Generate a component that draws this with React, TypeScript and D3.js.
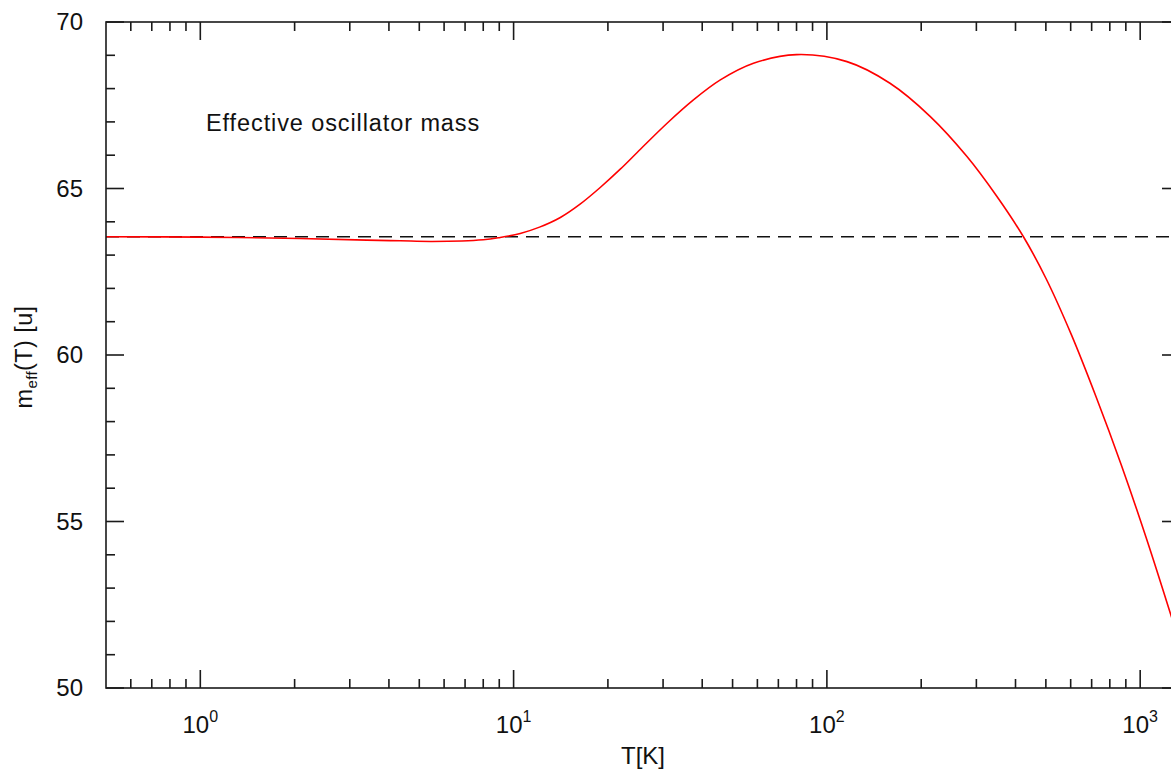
import React from "react";
import * as d3 from "d3";

const temperatures = [0.5, 1, 2.08, 3.4, 4.35, 5.5, 8.0, 9.06, 10.5, 12.1, 14.1, 16.3, 18.9, 21.9, 25.4, 30.9, 37.5, 45.7, 58.3, 80, 115.9, 159, 213.9, 280, 349, 424, 501, 603, 724, 871, 1047, 1259, 1340];
const effMass = [63.55, 63.54, 63.5, 63.45, 63.43, 63.41, 63.46, 63.53, 63.65, 63.84, 64.13, 64.53, 65.03, 65.58, 66.18, 66.96, 67.66, 68.26, 68.76, 69.02, 68.81, 68.16, 67.16, 65.96, 64.76, 63.55, 62.29, 60.61, 58.73, 56.69, 54.49, 52.13, 51.3];
const referenceMass = [63.55];
const xMajorTicks = [1, 10, 100, 1000];
const xMajorExponents = ["0", "1", "2", "3"];
const yMajorTicks = [50, 55, 60, 65, 70];
const xDomain = [0.5, 1340];
const yDomain = [50, 70];
const annotation = "Effective oscillator mass";

const W = 1171;
const H = 772;
const L = 106, R = 1180, T = 22, B = 688;

export default function App() {
  const x = d3.scaleLog().domain(xDomain).range([L, R]);
  const y = d3.scaleLinear().domain(yDomain).range([B, T]);

  const xMinor: number[] = [];
  for (let e = -1; e <= 3; e++) {
    for (let k = 2; k <= 9; k++) {
      const v = k * Math.pow(10, e);
      if (v > xDomain[0] && v < xDomain[1] && !xMajorTicks.includes(v)) xMinor.push(v);
    }
  }
  const yMinor = d3.range(yDomain[0], yDomain[1] + 0.001, 1).filter((v) => !yMajorTicks.includes(v));

  const pts: [number, number][] = temperatures.map((t, i) => [x(t), y(effMass[i])]);
  const line = d3.line().curve(d3.curveCatmullRom.alpha(0.5))(pts) || "";

  const axisColor = "#1a1a1a";
  const font = "'Liberation Sans', Arial, sans-serif";
  const majorLen = 18;
  const minorLen = 9;

  return (
    <svg width={W} height={H} style={{ position: "absolute", left: 0, top: 0, display: "block", background: "#fff" }} fontFamily={font}>
      <defs>
        <clipPath id="plotClip">
          <rect x={L} y={T} width={R - L} height={B - T} />
        </clipPath>
      </defs>

      {referenceMass.map((m, i) => (
        <line key={i} x1={L} x2={R} y1={y(m)} y2={y(m)} stroke="#111" strokeWidth={1.6} strokeDasharray="13,8" />
      ))}

      <path d={line} fill="none" stroke="#ff0000" strokeWidth={1.6} clipPath="url(#plotClip)" />

      <rect x={L} y={T} width={R - L} height={B - T} fill="none" stroke={axisColor} strokeWidth={1.6} />

      {xMajorTicks.map((t) => (
        <g key={"xM" + t}>
          <line x1={x(t)} x2={x(t)} y1={B} y2={B - majorLen} stroke={axisColor} strokeWidth={1.6} />
          <line x1={x(t)} x2={x(t)} y1={T} y2={T + majorLen} stroke={axisColor} strokeWidth={1.6} />
        </g>
      ))}
      {xMinor.map((t) => (
        <g key={"xm" + t}>
          <line x1={x(t)} x2={x(t)} y1={B} y2={B - minorLen} stroke={axisColor} strokeWidth={1.6} />
          <line x1={x(t)} x2={x(t)} y1={T} y2={T + minorLen} stroke={axisColor} strokeWidth={1.6} />
        </g>
      ))}
      {yMajorTicks.map((v) => (
        <g key={"yM" + v}>
          <line x1={L} x2={L + majorLen} y1={y(v)} y2={y(v)} stroke={axisColor} strokeWidth={1.6} />
          <line x1={R} x2={R - majorLen} y1={y(v)} y2={y(v)} stroke={axisColor} strokeWidth={1.6} />
        </g>
      ))}
      {yMinor.map((v) => (
        <g key={"ym" + v}>
          <line x1={L} x2={L + minorLen} y1={y(v)} y2={y(v)} stroke={axisColor} strokeWidth={1.6} />
          <line x1={R} x2={R - minorLen} y1={y(v)} y2={y(v)} stroke={axisColor} strokeWidth={1.6} />
        </g>
      ))}

      {yMajorTicks.map((v) => (
        <text key={"yl" + v} x={83} y={y(v)} dy="0.35em" textAnchor="end" fontSize={24} fill="#111">
          {v}
        </text>
      ))}

      {xMajorTicks.map((t, i) => (
        <text key={"xl" + t} x={x(t)} y={733} textAnchor="middle" fontSize={24} fill="#111">
          10
          <tspan fontSize={16} dy={-11}>{xMajorExponents[i]}</tspan>
        </text>
      ))}

      <text x={643} y={764} textAnchor="middle" fontSize={24} fill="#111">T[K]</text>
      <text transform={`translate(32,357) rotate(-90)`} textAnchor="middle" fontSize={23.5} letterSpacing={0.4} fill="#111">
        m<tspan fontSize={15} dy={5}>eff</tspan>
        <tspan dy={-5}>(T) [u]</tspan>
      </text>

      <text x={206} y={131} fontSize={23.5} letterSpacing={0.9} fill="#111">{annotation}</text>
    </svg>
  );
}
